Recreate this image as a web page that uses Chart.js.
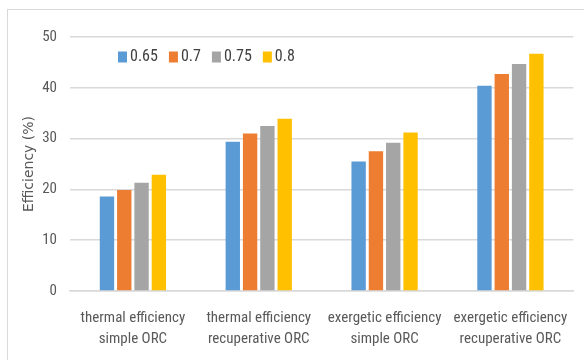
<!DOCTYPE html>
<html>
<head>
<meta charset="utf-8">
<script src="https://cdn.jsdelivr.net/npm/chart.js@4.4.0/dist/chart.umd.min.js"></script>
<style>
  html, body { margin: 0; padding: 0; background: #fff; }
  #wrap { position: relative; width: 584px; height: 360px; overflow: hidden; }
  #frame { position: absolute; left: 7px; top: 9px; width: 620px; height: 400px; border: 1.5px solid #d9d9d9; box-sizing: border-box; }
  #chart { position: absolute; left: 0; top: 0; }
</style>
</head>
<body>
<div id="wrap">
  <div id="frame"></div>
  <canvas id="chart" width="584" height="360"></canvas>
</div>
<script>
const categories = [
    ["thermal efficiency", "simple ORC"],
    ["thermal efficiency", "recuperative ORC"],
    ["exergetic efficiency", "simple ORC"],
    ["exergetic efficiency", "recuperative ORC"]
];
const seriesNames = ["0.65", "0.7", "0.75", "0.8"];
const values065 = [18.6, 29.4, 25.5, 40.4];
const values07 = [19.9, 31.0, 27.5, 42.7];
const values075 = [21.3, 32.5, 29.2, 44.7];
const values08 = [22.9, 33.9, 31.2, 46.7];
const yTicks = [0, 10, 20, 30, 40, 50];

const colors = ["#5B9BD5", "#ED7D31", "#A5A5A5", "#FFC000"];
const narrow = "'Liberation Sans Narrow', 'Roboto Condensed', Roboto, sans-serif";

// legend drawn inside the plot area, like the original
const insideLegend = {
    id: "insideLegend",
    afterDraw(chart) {
        const ctx = chart.ctx;
        ctx.save();
        ctx.font = "16px " + narrow;
        ctx.textBaseline = "middle";
        let x = 118;
        const y = 57;
        chart.data.datasets.forEach(function (ds) {
            ctx.fillStyle = ds.backgroundColor;
            ctx.fillRect(x, y - 5.5, 9, 11);
            ctx.fillStyle = "#404040";
            ctx.fillText(ds.label, x + 12, y);
            x += 12 + ctx.measureText(ds.label).width + 11;
        });
        ctx.restore();
    }
};

new Chart(document.getElementById("chart"), {
    type: "bar",
    data: {
        labels: categories,
        datasets: [
            { label: seriesNames[0], backgroundColor: colors[0], data: values065 },
            { label: seriesNames[1], backgroundColor: colors[1], data: values07 },
            { label: seriesNames[2], backgroundColor: colors[2], data: values075 },
            { label: seriesNames[3], backgroundColor: colors[3], data: values08 }
        ]
    },
    options: {
        responsive: false,
        animation: false,
        layout: { padding: { top: 37, right: 6, left: 21, bottom: 0 } },
        datasets: { bar: { categoryPercentage: 0.55, barPercentage: 0.83 } },
        plugins: {
            legend: { display: false },
            tooltip: { enabled: false }
        },
        scales: {
            x: {
                grid: { display: false, drawTicks: false },
                border: { color: "#d9d9d9", width: 1.5 },
                ticks: {
                    color: "#595959",
                    font: { family: narrow, size: 15, lineHeight: 1.45 },
                    padding: 16,
                    maxRotation: 0
                },
                afterFit(scale) { scale.height = 69; }
            },
            y: {
                min: 0,
                max: 50,
                afterBuildTicks(scale) { scale.ticks = yTicks.map(v => ({ value: v })); },
                grid: { color: "#d9d9d9", lineWidth: 1.5, drawTicks: false },
                border: { display: false },
                ticks: {
                    color: "#595959",
                    font: { family: narrow, size: 15 },
                    padding: 13
                },
                title: {
                    display: true,
                    text: "Efficiency (%)",
                    color: "#595959",
                    font: { family: "'DejaVu Sans', sans-serif", size: 14 },
                    padding: { top: 0, bottom: 0 }
                },
                afterFit(scale) { scale.width = 49; }
            }
        }
    },
    plugins: [insideLegend]
});
</script>
</body>
</html>
